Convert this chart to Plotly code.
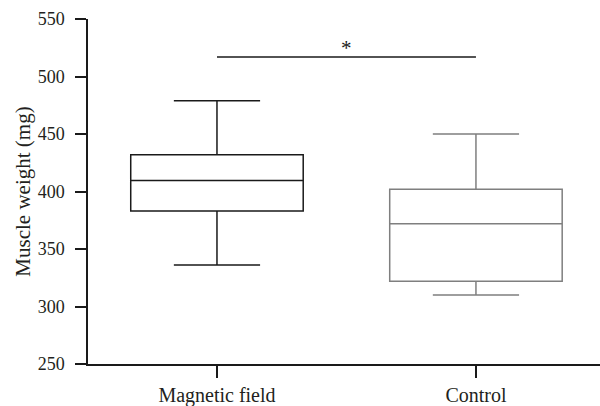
import plotly.graph_objects as go

groups = ["Magnetic field", "Control"]
lower_whisker = [336, 310]
q1_vals = [383, 322]
medians = [409.5, 372]
q3_vals = [432, 402]
upper_whisker = [479, 450]
colors = ["#1a1a1a", "#7f7f7f"]
sig_y = 517
sig_label = "*"
y_ticks = [250, 300, 350, 400, 450, 500, 550]

FONT = "Liberation Serif"

fig = go.Figure()
for i, g in enumerate(groups):
    fig.add_trace(go.Box(
        x=[g], q1=[q1_vals[i]], median=[medians[i]], q3=[q3_vals[i]],
        lowerfence=[lower_whisker[i]], upperfence=[upper_whisker[i]],
        width=0.666, whiskerwidth=0.5,
        line=dict(color=colors[i], width=1.5),
        fillcolor="white", boxpoints=False, showlegend=False,
        hoverinfo="skip",
    ))

fig.add_shape(type="line", xref="x", yref="y", x0=0, x1=1, y0=sig_y, y1=sig_y,
              line=dict(color="#1a1a1a", width=1.5))
fig.add_annotation(x=0.5, y=sig_y, xref="x", yref="y", text=sig_label,
                   showarrow=False, yanchor="bottom", yshift=-5,
                   font=dict(family=FONT, size=21, color="#1a1a1a"))

fig.update_layout(
    width=600, height=406,
    margin=dict(l=88, r=0, t=19, b=42),
    paper_bgcolor="white", plot_bgcolor="white",
    font=dict(family=FONT, size=17, color="#231f20"),
)
fig.update_xaxes(
    type="category", categoryorder="array", categoryarray=groups,
    range=[-0.498, 1.479],
    showline=True, linecolor="#1a1a1a", linewidth=1.5,
    ticks="outside", ticklen=12, tickwidth=1.5, tickcolor="#1a1a1a",
    showgrid=False, zeroline=False,
    tickfont=dict(family=FONT, size=20, color="#231f20"),
)
fig.update_yaxes(
    range=[250, 550], tickvals=y_ticks,
    showline=True, linecolor="#1a1a1a", linewidth=1.5,
    ticks="outside", ticklen=11, tickwidth=1.5, tickcolor="#1a1a1a",
    ticklabelstandoff=7,
    showgrid=False, zeroline=False,
    tickfont=dict(family=FONT, size=18, color="#231f20"),
    title=dict(text="Muscle weight (mg)", font=dict(family=FONT, size=21, color="#231f20"), standoff=1),
)

fig.write_html("out.html", config={"displayModeBar": False},
               post_script="document.body.style.margin='0';document.body.style.overflow='hidden';")
